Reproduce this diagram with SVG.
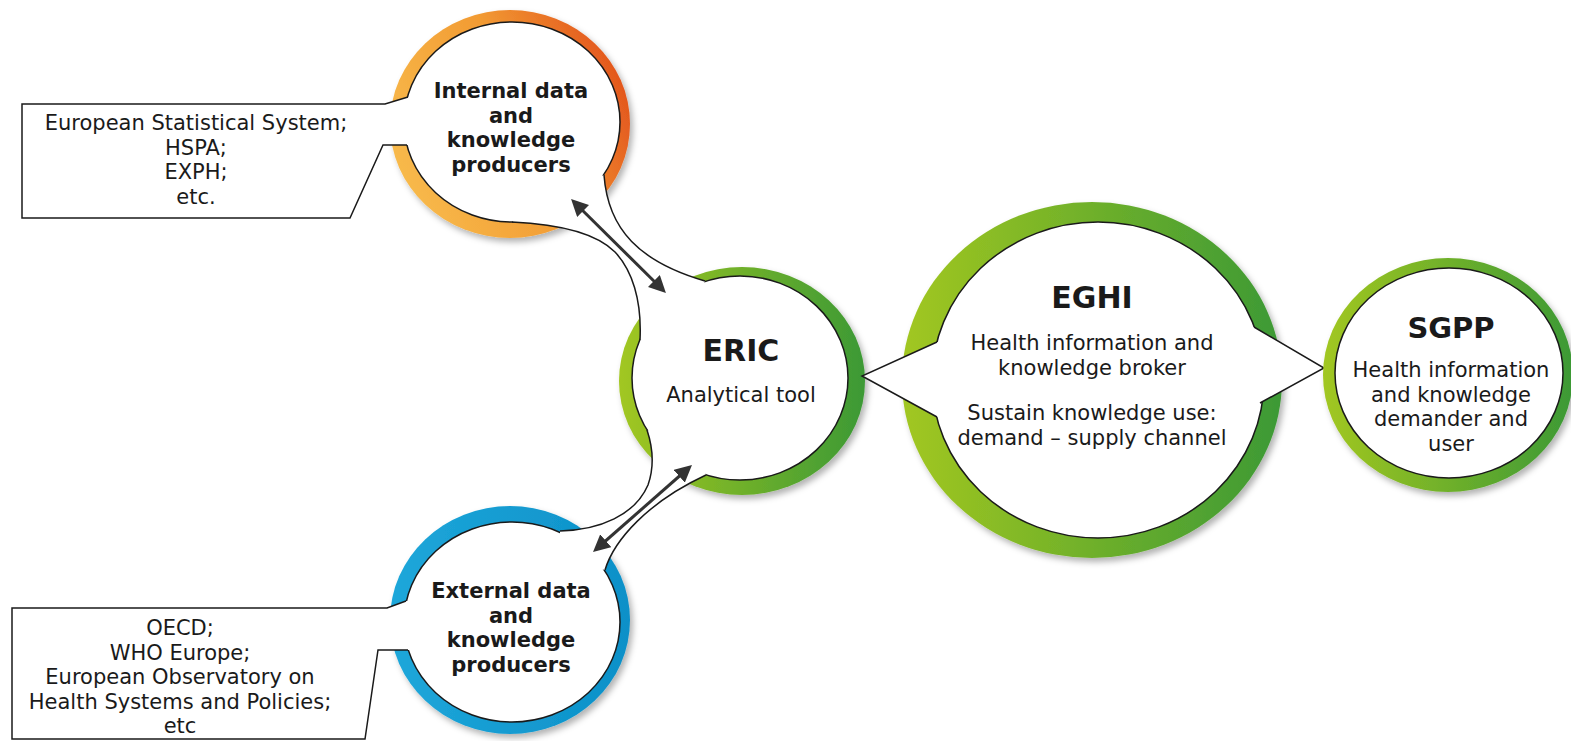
<svg xmlns="http://www.w3.org/2000/svg" width="1571" height="741" viewBox="0 0 1571 741">
<defs>
<linearGradient id="gOr" x1="0" y1="0.7" x2="1" y2="0.3"><stop offset="0" stop-color="#f8bb4c"/><stop offset="0.55" stop-color="#f29b33"/><stop offset="1" stop-color="#e2521c"/></linearGradient>
<linearGradient id="gGr" x1="0" y1="0.5" x2="1" y2="0.5"><stop offset="0" stop-color="#a2c720"/><stop offset="1" stop-color="#3c9935"/></linearGradient>
<linearGradient id="gBl" x1="0" y1="0.5" x2="1" y2="0.5"><stop offset="0" stop-color="#1ea7da"/><stop offset="1" stop-color="#0c90c8"/></linearGradient>
<filter id="sh" x="-10%" y="-10%" width="130%" height="130%"><feDropShadow dx="3" dy="4" stdDeviation="3" flood-color="#000" flood-opacity="0.3"/></filter>
<marker id="ah" viewBox="0 0 10 10" refX="6.5" refY="5" markerWidth="17" markerHeight="17" markerUnits="userSpaceOnUse" orient="auto-start-reverse"><path d="M0,0 L10,5 L0,10 z" fill="#333"/></marker>
</defs>
<style>
.wo{fill:#fff;stroke:#1a1a1a;stroke-width:1.5}
.wf{fill:#fff;stroke:none}
.ln{fill:none;stroke:#1a1a1a;stroke-width:1.5}
.t{font-family:"DejaVu Sans",Verdana,sans-serif;fill:#1a1a1a;text-anchor:middle;font-size:21px}
.b{font-weight:bold}
.big{font-weight:bold;font-size:30px}
.ar{fill:none;stroke:#333;stroke-width:3;marker-start:url(#ah);marker-end:url(#ah)}
</style>
<g id="node-internal">
<ellipse cx="510" cy="124" rx="120" ry="114" fill="url(#gOr)" filter="url(#sh)"/>
<ellipse class="wo" cx="512" cy="122" rx="108" ry="100"/>
<text class="t b"><tspan x="511" y="98">Internal data</tspan><tspan x="511" y="122.5">and</tspan><tspan x="511" y="147">knowledge</tspan><tspan x="511" y="171.5">producers</tspan></text>
</g>
<g id="node-eric">
<ellipse cx="742" cy="381" rx="123" ry="114" fill="url(#gGr)" filter="url(#sh)"/>
<ellipse class="wo" cx="740" cy="378" rx="108" ry="102"/>
<text class="t big" x="741" y="361">ERIC</text>
<text class="t" x="741" y="402">Analytical tool</text>
</g>
<g id="node-external">
<ellipse cx="510" cy="620" rx="120" ry="114" fill="url(#gBl)" filter="url(#sh)"/>
<ellipse class="wo" cx="512" cy="622" rx="108" ry="100"/>
<text class="t b"><tspan x="511" y="598">External data</tspan><tspan x="511" y="622.5">and</tspan><tspan x="511" y="647">knowledge</tspan><tspan x="511" y="671.5">producers</tspan></text>
</g>
<g id="node-eghi">
<ellipse cx="1092" cy="380" rx="190" ry="178" fill="url(#gGr)" filter="url(#sh)"/>
<ellipse class="wo" cx="1098" cy="380" rx="166" ry="158"/>
<path class="wf" d="M937,342 L862,376 L937,417 L960,417 L960,342 Z"/>
<path class="ln" d="M937,342 L862,376 L937,417"/>
<path class="wf" d="M1254,327 L1324,368 L1260,403 L1235,403 L1235,327 Z"/>
<path class="ln" d="M1254,327 L1324,368 L1260,403"/>
<text class="t big" x="1092" y="308">EGHI</text>
<text class="t"><tspan x="1092" y="350">Health information and</tspan><tspan x="1092" y="374.5">knowledge broker</tspan><tspan x="1092" y="420">Sustain knowledge use:</tspan><tspan x="1092" y="444.5">demand – supply channel</tspan></text>
</g>
<g id="node-sgpp">
<ellipse cx="1448" cy="375" rx="125" ry="117" fill="url(#gGr)" filter="url(#sh)"/>
<ellipse class="wo" cx="1449" cy="373" rx="114" ry="105"/>
<text class="t b" style="font-size:29px" x="1451" y="338">SGPP</text>
<text class="t"><tspan x="1451" y="377">Health information</tspan><tspan x="1451" y="401.5">and knowledge</tspan><tspan x="1451" y="426">demander and</tspan><tspan x="1451" y="450.5">user</tspan></text>
</g>
<g id="box-internal">
<path class="wf" d="M22,104 L385,104 L408,97 L422,97 L422,145 L407,145 L383,145 L350,218 L22,218 Z"/>
<path class="ln" d="M408,97 L385,104 L22,104 L22,218 L350,218 L383,145 L407,145"/>
<text class="t"><tspan x="196" y="130">European Statistical System;</tspan><tspan x="196" y="154.7">HSPA;</tspan><tspan x="196" y="179.4">EXPH;</tspan><tspan x="196" y="204">etc.</tspan></text>
</g>
<g id="box-external">
<path class="wf" d="M12,608 L387,608 L406,601 L422,601 L422,650 L408,650 L378,650 L365,739 L12,739 Z"/>
<path class="ln" d="M406,601 L387,608 L12,608 L12,739 L365,739 L378,650 L408,650"/>
<text class="t"><tspan x="180" y="635">OECD;</tspan><tspan x="180" y="659.5">WHO Europe;</tspan><tspan x="180" y="684">European Observatory on</tspan><tspan x="180" y="708.5">Health Systems and Policies;</tspan><tspan x="180" y="733">etc</tspan></text>
</g>
<g id="necks">
<path class="wf" d="M512,222 C555,224 595,232 615,252 C632,270 642,300 640,340 L690,320 L705,281 C640,262 608,230 604,175 L560,190 Z"/>
<path class="ln" d="M512,222 C555,224 595,232 615,252 C632,270 642,300 640,340"/>
<path class="ln" d="M604,175 C608,230 640,262 705,281"/>
<path class="wf" d="M560,531 C600,530 635,515 648,485 C655,465 652,445 647,430 L690,440 L706,475 C648,502 614,540 605,570 L560,560 Z"/>
<path class="ln" d="M560,531 C600,530 635,515 648,485 C655,465 652,445 647,430"/>
<path class="ln" d="M605,570 C614,540 648,502 706,475"/>
</g>
<g id="connectors">
<line class="ar" x1="575.3" y1="203.2" x2="661.7" y2="288.8"/>
<line class="ar" x1="687.5" y1="469" x2="597.5" y2="548"/>
</g>
</svg>
